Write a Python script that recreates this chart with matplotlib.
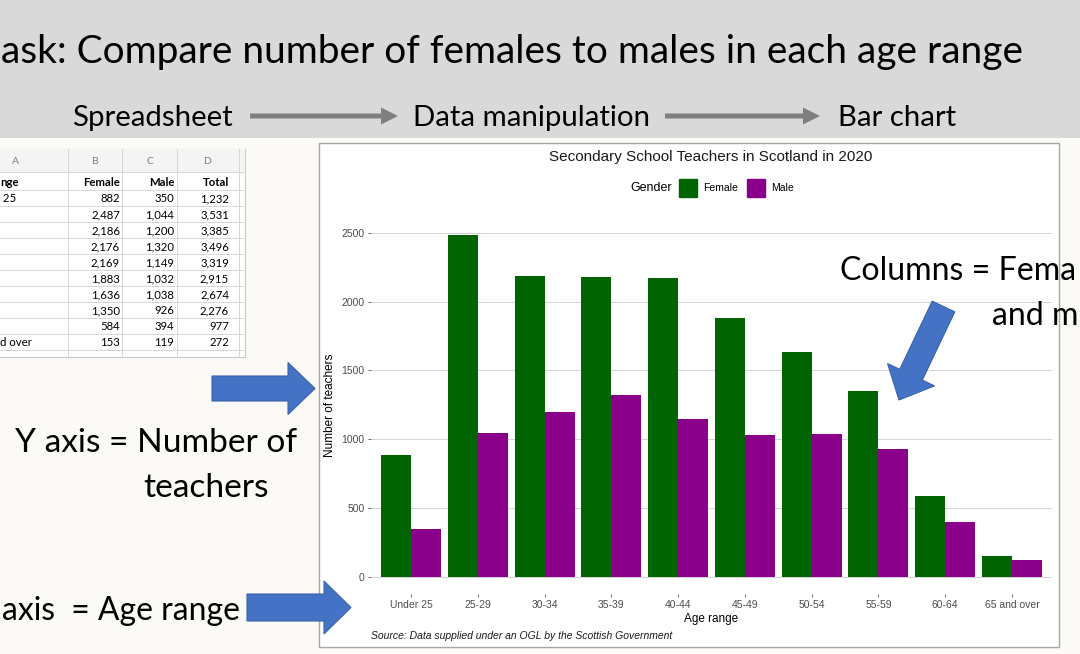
import numpy as np
import matplotlib
matplotlib.use("Agg")
import matplotlib.pyplot as plt
from matplotlib.patches import Rectangle, FancyArrow

# data (Scottish secondary teachers 2020)
ages = ["Under 25", "25-29", "30-34", "35-39", "40-44",
        "45-49", "50-54", "55-59", "60-64", "65 and over"]
female = [882, 2487, 2186, 2176, 2169, 1883, 1636, 1350, 584, 153]
male = [350, 1044, 1200, 1320, 1149, 1032, 1038, 926, 394, 119]
total = [1232, 3531, 3385, 3496, 3319, 2915, 2674, 2276, 977, 272]
yticks = [0, 500, 1000, 1500, 2000, 2500]
# column A of the spreadsheet as it shows in the cropped screenshot
sheet_a = [" 25", "", "", "", "", "", "", "", "", "d over"]

GREEN = "#006400"
PURPLE = "#8b008b"
BLUE = "#4472c4"
SLIDE = "Lato"
CHART = "Liberation Sans"

W, H = 1080, 654
fig = plt.figure(figsize=(W / 100, H / 100), dpi=100)
fig.patch.set_facecolor("#fbfaf6")
renderer = fig.canvas.get_renderer()

# background layer in pixel coords (y down)
bg = fig.add_axes([0, 0, 1, 1])
bg.set_xlim(0, W)
bg.set_ylim(H, 0)
bg.axis("off")

bg.add_patch(Rectangle((0, 0), W, 138, color="#d9d9d9", lw=0))
bg.add_patch(Rectangle((319, 143), 740, 504, fc="white", ec="#a6a6a6", lw=1))

# spreadsheet snippet
col_x = [-38, 68, 122, 177, 239, 245]
bg.add_patch(Rectangle((-38, 149), 283, 208, fc="white", ec="#c8c8c8", lw=0.8))
bg.add_patch(Rectangle((-38, 149), 283, 23, fc="#f4f4f4", ec="none"))
for cx in col_x[1:-1]:
    bg.plot([cx, cx], [149, 357], color="#d6d6d6", lw=0.7)
row_y = [172] + [189.5 + k * 16.05 for k in range(11)]
for ry in row_y:
    bg.plot([-38, 245], [ry, ry], color="#d6d6d6", lw=0.7)
for i, letter in enumerate("ABCD"):
    bg.text((col_x[i] + col_x[i + 1]) / 2, 164, letter, ha="center", va="baseline",
            fontsize=7.5, color="#7f7f7f", family=SLIDE)
rx = [120, 174, 229]
hdr_y = 186
bg.text(0, hdr_y, "nge", ha="left", va="baseline", fontsize=8.2, weight="bold", family=SLIDE)
for x, s in zip(rx, ["Female", "Male", "Total"]):
    bg.text(x, hdr_y, s, ha="right", va="baseline", fontsize=8.2, weight="bold", family=SLIDE)
for i in range(len(ages)):
    y = 202 + i * 16.05
    if sheet_a[i]:
        bg.text(0, y, sheet_a[i], ha="left", va="baseline", fontsize=8.2, family=SLIDE)
    for x, v in zip(rx, [female[i], male[i], total[i]]):
        bg.text(x, y, f"{v:,}", ha="right", va="baseline", fontsize=8.2, family=SLIDE)

# bar chart
ax = fig.add_axes([371 / W, 1 - 593.8 / H, (1052 - 371) / W, (593.8 - 217.4) / H])
x = np.arange(len(ages))
bw = 0.45
ax.bar(x - bw / 2, female, bw, color=GREEN, label="Female")
ax.bar(x + bw / 2, male, bw, color=PURPLE, label="Male")
ax.set_xlim(-0.6, len(ages) - 0.4)
ax.set_ylim(-0.05 * max(female), 1.05 * max(female))
ax.set_xticks(x)
ax.set_xticklabels(ages)
ax.set_yticks(yticks)
ax.set_yticklabels([str(v) for v in yticks])
for s in ax.spines.values():
    s.set_visible(False)
ax.set_facecolor("white")
ax.grid(axis="y", color="#d4d4d4", lw=0.7)
ax.set_axisbelow(True)
ax.tick_params(length=2.5, width=0.6, color="#555555", labelsize=7.5,
               labelcolor="#4d4d4d", pad=2)
for lab in ax.get_xticklabels() + ax.get_yticklabels():
    lab.set_family(CHART)
ax.set_ylabel("Number of teachers", fontsize=8.5, family=CHART, labelpad=4)
ax.set_xlabel("Age range", fontsize=8.5, family=CHART, labelpad=2)

# overlay layer for titles, legend and slide annotations
top = fig.add_axes([0, 0, 1, 1])
top.set_xlim(0, W)
top.set_ylim(H, 0)
top.axis("off")
top.patch.set_alpha(0)

top.text(711, 157, "Secondary School Teachers in Scotland in 2020", ha="center", va="center",
         fontsize=11, family=CHART, color="#1a1a1a")
top.text(630, 188, "Gender", ha="left", va="center", fontsize=9, family=CHART)
top.add_patch(Rectangle((679, 179), 18, 18, color=GREEN))
top.text(703, 188, "Female", ha="left", va="center", fontsize=7.5, family=CHART)
top.add_patch(Rectangle((747, 179), 18, 18, color=PURPLE))
top.text(771, 188, "Male", ha="left", va="center", fontsize=7.5, family=CHART)
top.text(371, 636, "Source: Data supplied under an OGL by the Scottish Government", ha="left",
         va="center", fontsize=7.5, style="italic", family=CHART, color="#1a1a1a")


def fit(s, x, y, width, **kw):
    t = top.text(x, y, s, fontsize=20, family=SLIDE, va="baseline", **kw)
    w = t.get_window_extent(renderer).width
    t.set_fontsize(20 * width / w)
    return t


# slide title (its first letter is cropped off in the screenshot)
fit("ask: Compare number of females to males in each age range", 1, 63, 1024)

h = fit("Spreadsheet", 72, 126, 161).get_fontsize()
top.text(413, 126, "Data manipulation", fontsize=h, family=SLIDE, va="baseline")
top.text(838, 126, "Bar chart", fontsize=h, family=SLIDE, va="baseline")
for x0, x1 in [(250, 398), (665, 820)]:
    top.add_patch(FancyArrow(x0, 116, x1 - x0, 0, width=5, head_width=17, head_length=17,
                             length_includes_head=True, color="#7f7f7f", lw=0))

a = fit("Y axis = Number of", 15, 452, 282).get_fontsize()
top.text(143, 497, "teachers", fontsize=a, family=SLIDE, va="baseline")
fit("axis  = Age range", 2, 620, 238)
c = fit("Columns = Fema", 840, 280, 236).get_fontsize()
top.text(1078, 325, "and m", fontsize=c, family=SLIDE, va="baseline", ha="right")

arrow_kw = dict(length_includes_head=True, fc=BLUE, ec="#3a62ad", lw=0.8)
top.add_patch(FancyArrow(212, 388.5, 103, 0, width=25, head_width=52, head_length=27, **arrow_kw))
top.add_patch(FancyArrow(247, 607.5, 104, 0, width=27, head_width=53, head_length=27, **arrow_kw))
top.add_patch(FancyArrow(943.5, 306.5, -44.5, 93.5, width=25, head_width=52, head_length=28, **arrow_kw))

fig.savefig("out.png", dpi=100, facecolor=fig.get_facecolor())
